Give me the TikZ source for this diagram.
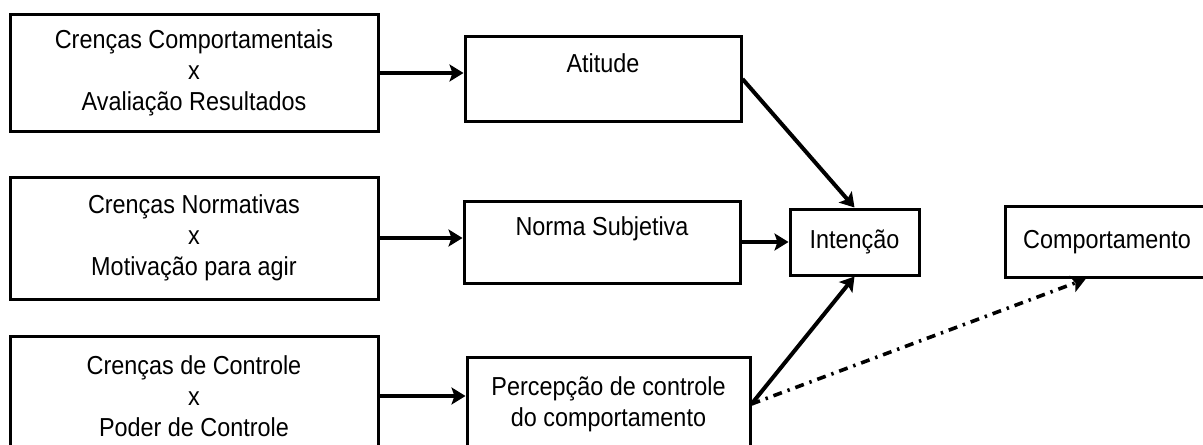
\documentclass[tikz,border=0pt]{standalone}
\usepackage{fontspec}
\setmainfont[FakeStretch=0.9]{Liberation Sans}
\usetikzlibrary{arrows.meta, positioning}
\tikzset{
    >={Stealth[length=7pt,width=8.5pt,inset=1.5pt]}, % filled arrow heads
    box/.style={draw, line width=1.5pt, align=center, inner sep=2pt,
        font=\fontsize{13}{15.5}\selectfont},
    belief/.style={box, minimum width=184pt},
    flow/.style={->, line width=2pt},
    perhaps/.style={->, line width=1.8pt, dash pattern=on 4.5pt off 3pt on 1.2pt off 3pt},
}

\begin{document}
\begin{tikzpicture}
    \useasboundingbox (0,0) rectangle (601.5pt,-222pt);

    \node[belief, minimum height=58pt] (cc) at (97pt,-36.5pt) {Crenças Comportamentais\\x\\Avaliação Resultados};
    \node[belief, minimum height=61pt] (cn) [below=21.5pt of cc] {Crenças Normativas\\x\\Motivação para agir};
    \node[belief, minimum height=60pt] (ctl) [below=17pt of cn] {Crenças de Controle\\x\\Poder de Controle};

    \node[box, minimum width=138pt, minimum height=42pt] (att) [right=42pt of cc, yshift=-3pt] {Atitude\\~};
    \node[box, minimum width=138pt, minimum height=41pt] (ns) [right=41.5pt of cn, yshift=-2pt] {Norma Subjetiva\\~};
    \node[box, minimum width=141.5pt, minimum height=47pt] (pcc) [right=43pt of ctl, yshift=-4pt] {Percepção de controle\\do comportamento};

    \node[box, minimum width=64.5pt, minimum height=33pt] (int) [right=23.5pt of ns] {Intenção};
    \node[box, minimum width=102pt, minimum height=35.5pt] (comp) [right=41.5pt of int] {Comportamento};

    % Setas
    \draw[flow] (cc.east) -- (cc.east -| att.west);
    \draw[flow] (cn.east) -- (cn.east -| ns.west);
    \draw[flow] (ctl.east) -- (ctl.east -| pcc.west);
    \draw[flow] (att.east) -- (int.north);
    \draw[flow] (ns.east) -- (ns.east -| int.west);
    \draw[flow] (pcc.east) -- (int.south);
    \draw[perhaps] (pcc.east) -- (comp.240);
\end{tikzpicture}
\end{document}
